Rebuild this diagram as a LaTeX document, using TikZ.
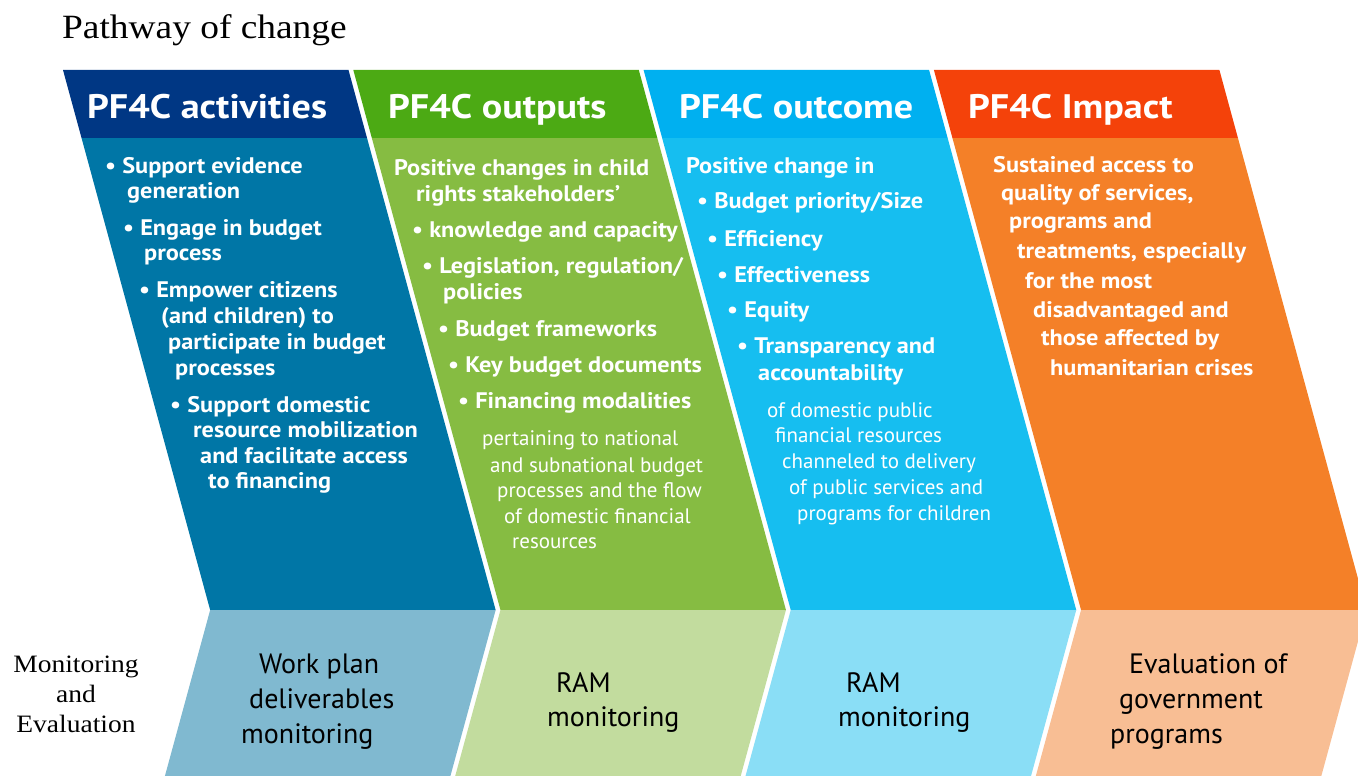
\documentclass[tikz,border=0pt]{standalone}
\usepackage{fontspec}
\setmainfont{PT Sans}
\newfontfamily\headfont[FakeStretch=1.12]{PT Sans}
\newfontfamily\bodyfont[FakeStretch=1.08]{PT Sans}
\newfontfamily\serifttl[FakeStretch=1.1]{Liberation Serif}
\definecolor{hA}{HTML}{003784}\definecolor{bA}{HTML}{0076A6}\definecolor{lA}{HTML}{80B9D0}
\definecolor{hB}{HTML}{4CAA14}\definecolor{bB}{HTML}{86BC42}\definecolor{lB}{HTML}{C2DC9E}
\definecolor{hC}{HTML}{00B0F0}\definecolor{bC}{HTML}{16BEF0}\definecolor{lC}{HTML}{8ADEF6}
\definecolor{hD}{HTML}{F4420A}\definecolor{bD}{HTML}{F48028}\definecolor{lD}{HTML}{F8BE94}
\tikzset{
  head/.style={text=white,font=\headfont\fontsize{34}{38}\selectfont\bfseries,anchor=base west,inner sep=0pt},
  bld/.style={text=white,font=\bodyfont\fontsize{22.5}{26}\selectfont\bfseries,anchor=base west,inner sep=0pt},
  reg/.style={text=white,font=\fontsize{21}{25}\selectfont,anchor=base west,inner sep=0pt},
  me/.style={text=black,font=\fontsize{28}{32}\selectfont,anchor=base west,inner sep=0pt},
  ser/.style={text=black,font=\serifttl\fontsize{25}{30}\selectfont,anchor=base,inner sep=0pt},
}
\newcommand\tline[5]{\node[#2] (#1) at (#3,#4) {#5};}
\begin{document}
\begin{tikzpicture}[x=1pt,y=-1pt]
\useasboundingbox (0,0) rectangle (1358,776);
\def\s{0.2725}
\def\W{285.5}
\begin{scope}
\clip (0,0) rectangle (1358,776);
\foreach \i/\hc/\bc/\lc in {0/hA/bA/lA,1/hB/bB/lB,2/hC/bC/lC,3/hD/bD/lD}{
  \pgfmathsetmacro\L{63+290.3*\i}
  \fill[\hc] (\L,70) -- ({\L+\W},70) -- ({\L+\W+68*\s},138) -- ({\L+68*\s},138) -- cycle;
  \fill[\bc] ({\L+68*\s},138) -- ({\L+\W+68*\s},138) -- ({\L+\W+540*\s},610) -- ({\L+540*\s},610) -- cycle;
  \fill[\lc] ({\L+540*\s},610) -- ({\L+\W+540*\s},610) -- ({\L+\W+374*\s},776) -- ({\L+374*\s},776) -- cycle;
}
\end{scope}
% title
\node[anchor=base west,inner sep=0pt,font=\serifttl\fontsize{34}{40}\selectfont] (title) at (62,39) {Pathway of change};
% headers
\tline{hA}{head}{87}{118}{PF4C activities}
\tline{hB}{head}{388}{118}{PF4C outputs}
\tline{hC}{head}{679}{118}{PF4C outcome}
\tline{hD}{head}{968}{118}{PF4C Impact}
% column 1
\tline{a1}{bld}{105}{173}{•\ Support evidence}
\tline{a2}{bld}{127}{198}{generation}
\tline{a3}{bld}{123}{235}{•\ Engage in budget}
\tline{a4}{bld}{144}{260}{process}
\tline{a5}{bld}{139}{297}{•\ Empower citizens}
\tline{a6}{bld}{161}{323}{(and children) to}
\tline{a7}{bld}{168}{349}{participate in budget}
\tline{a8}{bld}{175}{375}{processes}
\tline{a9}{bld}{170}{412}{•\ Support domestic}
\tline{a10}{bld}{193}{437}{resource mobilization}
\tline{a11}{bld}{200}{463}{and facilitate access}
\tline{a12}{bld}{208}{488}{to financing}
% column 2
\tline{b1}{bld}{394}{175}{Positive changes in child}
\tline{b2}{bld}{416}{201}{rights stakeholders’}
\tline{b3}{bld}{412}{237}{•\ knowledge and capacity}
\tline{b4}{bld}{422}{273}{•\ Legislation, regulation/}
\tline{b5}{bld}{443}{299}{policies}
\tline{b6}{bld}{438}{336}{•\ Budget frameworks}
\tline{b7}{bld}{448}{372}{•\ Key budget documents}
\tline{b8}{bld}{458}{408}{•\ Financing modalities}
\tline{b9}{reg}{482}{445}{pertaining to national}
\tline{b10}{reg}{490}{472}{and subnational budget}
\tline{b11}{reg}{497}{497}{processes and the flow}
\tline{b12}{reg}{504}{523}{of domestic financial}
\tline{b13}{reg}{512}{548}{resources}
% column 3
\tline{c1}{bld}{686}{173}{Positive change in}
\tline{c2}{bld}{697}{208}{•\ Budget priority/Size}
\tline{c3}{bld}{707}{246}{•\ Efficiency}
\tline{c4}{bld}{717}{282}{•\ Effectiveness}
\tline{c5}{bld}{727}{317}{•\ Equity}
\tline{c6}{bld}{737}{353}{•\ Transparency and}
\tline{c7}{bld}{758}{380}{accountability}
\tline{c8}{reg}{767}{417}{of domestic public}
\tline{c9}{reg}{775}{442}{financial resources}
\tline{c10}{reg}{782}{468}{channeled to delivery}
\tline{c11}{reg}{789}{494}{of public services and}
\tline{c12}{reg}{797}{520}{programs for children}
% column 4
\tline{d1}{bld}{993}{172}{Sustained access to}
\tline{d2}{bld}{1001}{200}{quality of services,}
\tline{d3}{bld}{1009}{228}{programs and}
\tline{d4}{bld}{1017}{258}{treatments, especially}
\tline{d5}{bld}{1025}{288}{for the most}
\tline{d6}{bld}{1033}{317}{disadvantaged and}
\tline{d7}{bld}{1041}{345}{those affected by}
\tline{d8}{bld}{1050}{375}{humanitarian crises}
% monitoring row
\tline{m1}{ser}{76}{672}{Monitoring}
\tline{m2}{ser}{76}{702}{and}
\tline{m3}{ser}{76}{732}{Evaluation}
\tline{e1}{me}{259}{673}{Work plan}
\tline{e2}{me}{249}{708}{deliverables}
\tline{e3}{me}{241}{743}{monitoring}
\tline{f1}{me}{556}{692}{RAM}
\tline{f2}{me}{547}{726}{monitoring}
\tline{g1}{me}{846}{692}{RAM}
\tline{g2}{me}{838}{726}{monitoring}
\tline{k1}{me}{1129}{673}{Evaluation of}
\tline{k2}{me}{1119}{708}{government}
\tline{k3}{me}{1110}{743}{programs}
\end{tikzpicture}
\end{document}
